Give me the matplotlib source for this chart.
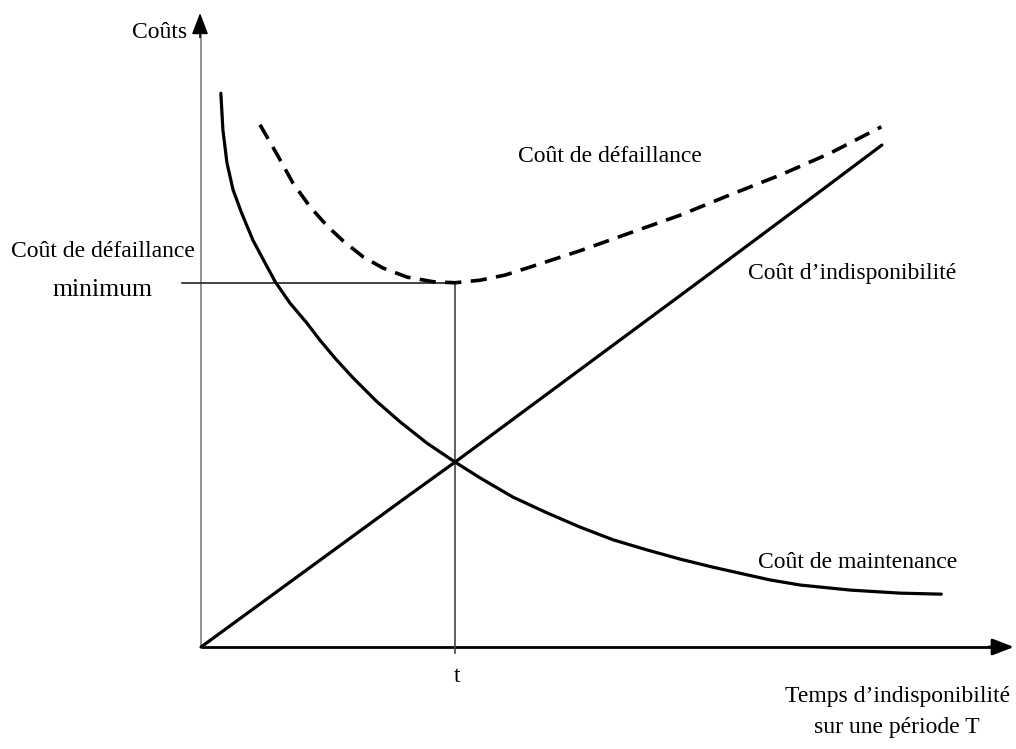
import matplotlib
matplotlib.use("Agg")
import matplotlib.pyplot as plt

plt.rcParams['font.family'] = ['Liberation Serif', 'DejaVu Serif']

# ---- data (arbitrary units, origin at 0,0) ----
maint_x = [0.39, 0.43, 0.51, 0.63, 0.80, 1.02, 1.26, 1.46, 1.75, 2.08, 2.34, 2.65, 2.99, 3.45, 3.92, 4.45, 5.0,
           5.49, 6.14, 6.81, 7.46, 8.11, 8.78, 9.43, 10.08, 10.75, 11.20, 11.79, 12.78, 13.76, 14.57]
maint_y = [10.90, 10.18, 9.53, 9.00, 8.54, 8.01, 7.56, 7.19, 6.77, 6.38, 6.04, 5.67, 5.30, 4.84, 4.43, 4.01, 3.64,
           3.33, 2.95, 2.64, 2.36, 2.11, 1.91, 1.73, 1.57, 1.42, 1.32, 1.22, 1.12, 1.06, 1.04]

indisp_x = [0.0, 2.0, 4.0, 5.0, 6.0, 8.0, 10.0, 12.0, 13.4]
indisp_y = [0.0, 1.46, 2.92, 3.64, 4.38, 5.86, 7.34, 8.83, 9.88]

defail_x = [1.16, 1.50, 1.81, 2.15, 2.48, 2.80, 3.19, 3.58, 4.06, 4.57, 5.0,
            5.49, 5.98, 6.48, 6.97, 7.46, 8.44, 9.43, 10.41, 11.40, 12.38, 13.39]
defail_y = [10.28, 9.69, 9.13, 8.66, 8.29, 7.99, 7.68, 7.46, 7.28, 7.19, 7.17,
            7.22, 7.32, 7.48, 7.64, 7.80, 8.15, 8.50, 8.90, 9.29, 9.72, 10.24]

t_opt = 5.0
cost_min = 7.17

label_y_axis = "Coûts"
label_x_axis = ["Temps d\u2019indisponibilité", "sur une période T"]
label_defail = "Coût de défaillance"
label_indisp = "Coût d\u2019indisponibilité"
label_maint = "Coût de maintenance"
label_min = ["Coût de défaillance", "minimum"]
label_t = "t"

# ---- figure ----
fig = plt.figure(figsize=(10.16, 7.49), dpi=100)
ax = fig.add_axes([0, 0, 1, 1])
ax.set_xlim(-3.957, 16.04)
ax.set_ylim(-2.008, 12.736)
ax.axis('off')

# axes lines
ax.plot([0, 0], [0, 12.2], color='#808080', lw=1.2, solid_capstyle='butt')
ax.plot([0, 15.7], [0, 0], color='black', lw=2.0, solid_capstyle='butt')
ax.annotate('', xy=(-0.02, 12.48), xytext=(-0.02, 12.0),
            arrowprops=dict(arrowstyle='-|>,head_length=1.3,head_width=0.5',
                            mutation_scale=10, color='black', lw=1.2,
                            shrinkA=0, shrinkB=0))
ax.annotate('', xy=(16.0, 0), xytext=(15.5, 0),
            arrowprops=dict(arrowstyle='-|>,head_length=1.3,head_width=0.5',
                            mutation_scale=10, color='black', lw=2.0,
                            shrinkA=0, shrinkB=0))

# reference lines
ax.plot([-0.38, t_opt], [cost_min, cost_min], color='#222222', lw=1.2)
ax.plot([t_opt, t_opt], [-0.12, cost_min], color='#444444', lw=1.2)

# curves
ax.plot(maint_x, maint_y, color='black', lw=2.3, solid_capstyle='round', solid_joinstyle='round')
ax.plot(indisp_x, indisp_y, color='black', lw=2.3, solid_capstyle='round')
ax.plot(defail_x, defail_y, color='black', lw=2.6, dashes=(4.5, 2.6))

# texts
fs = 17
ax.text(-0.28, 12.09, label_y_axis, fontsize=fs, ha='right', va='center')
ax.text(8.05, 9.65, label_defail, fontsize=fs, ha='center', va='center')
ax.text(10.77, 7.36, label_indisp, fontsize=fs, ha='left', va='center')
ax.text(10.96, 1.67, label_maint, fontsize=fs, ha='left', va='center')
ax.text(-1.93, 7.78, label_min[0], fontsize=fs, ha='center', va='center')
ax.text(-1.93, 7.03, label_min[1], fontsize=18.5, ha='center', va='center')
ax.text(5.04, -0.59, label_t, fontsize=fs, ha='center', va='center')
ax.text(13.70, -0.98, label_x_axis[0], fontsize=fs, ha='center', va='center')
ax.text(13.70, -1.59, label_x_axis[1], fontsize=fs, ha='center', va='center')

fig.savefig('out.png', dpi=100)
